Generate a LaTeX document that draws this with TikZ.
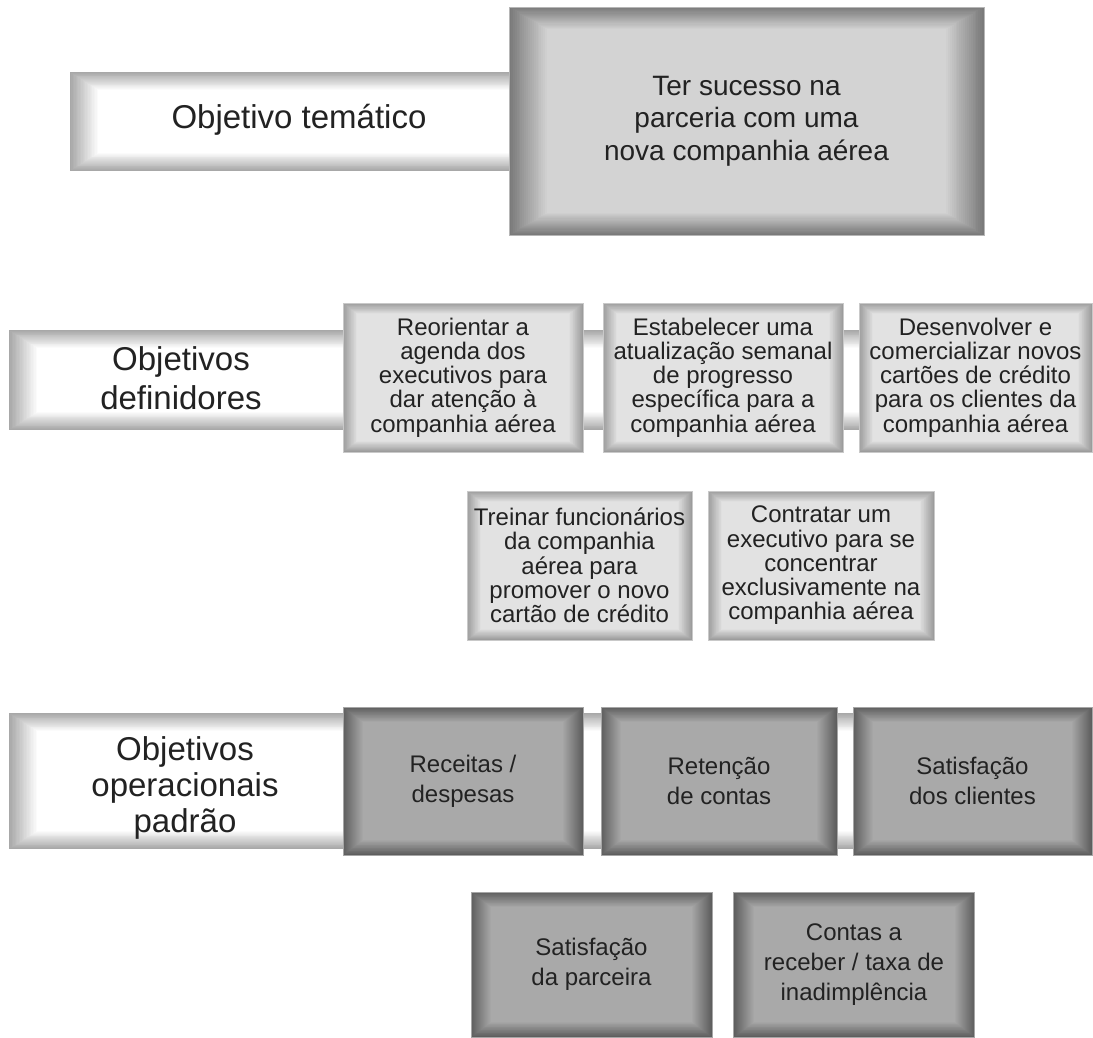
\documentclass[tikz,border=0pt]{standalone}
\usepackage{fontspec}
\setmainfont{Liberation Sans}
\begin{document}
\definecolor{ink}{HTML}{222222}
\definecolor{barout}{HTML}{A8A8A8}
\definecolor{barin}{HTML}{FFFFFF}
\definecolor{topout}{HTML}{7A7A7A}
\definecolor{topin}{HTML}{D3D3D3}
\definecolor{defout}{HTML}{9C9C9C}
\definecolor{defin}{HTML}{E2E2E2}
\definecolor{opout}{HTML}{5E5E5E}
\definecolor{opin}{HTML}{A9A9A9}
\tikzset{
  % size of a node given in pixel units
  px/.style 2 args={minimum width=#1*0.75pt, minimum height=#2*0.75pt},
  % bevelled fill: outer colour, inner colour, bevel width x, bevel width y (px)
  bevel/.style n args={4}{
    path picture={
      \fill[#1] (path picture bounding box.south west) rectangle (path picture bounding box.north east);
      \foreach \k in {1,...,20}{
        \pgfmathtruncatemacro\pct{5*\k}
        \pgfmathsetmacro\dx{\k*#3*0.75/20}
        \pgfmathsetmacro\dy{\k*#4*0.75/20}
        \fill[#2!\pct!#1] ([shift={(\dx pt,\dy pt)}]path picture bounding box.south west)
          rectangle ([shift={(-\dx pt,-\dy pt)}]path picture bounding box.north east);
      }
    }
  },
  every node/.style={inner sep=0pt, text=ink},
  bar/.style={bevel={barout}{barin}{28}{18}},
  bartext/.style={align=center, font=\fontsize{24.75}{29.25}\selectfont},
  themebox/.style={bevel={topout}{topin}{38}{22}, draw=topout!55!white, line width=0.6pt,
    align=center, font=\fontsize{21}{24.4}\selectfont},
  defbox/.style={bevel={defout}{defin}{14}{11}, draw=defout!55!white, line width=0.6pt,
    align=center, font=\fontsize{18}{18.2}\selectfont},
  opbox/.style={bevel={opout}{opin}{20}{15}, draw=opout!55!white, line width=0.6pt,
    align=center, font=\fontsize{18}{22.5}\selectfont}
}
\begin{tikzpicture}[x=0.75pt, y=-0.75pt]
\useasboundingbox (0,0) rectangle (1093,1038);

% horizontal banners behind each row
\node[bar, px={630}{99}]  (bar1) at (385,121.5) {};
\node[bar, px={991}{100}] (bar2) at (504.5,380) {};
\node[bar, px={991}{136}] (bar3) at (504.5,781) {};

% thematic goal
\node[themebox, px={475}{228}] (tema) at (746.5,121)
  {Ter sucesso na\\parceria com uma\\nova companhia aérea};

% defining objectives
\node[defbox, px={240}{149}] (d1) at (463,377.5)
  {Reorientar a\\agenda dos\\executivos para\\dar atenção à\\companhia aérea};
\node[defbox, px={240}{149}] (d2) at (723,377.5)
  {Estabelecer uma\\atualização semanal\\de progresso\\específica para a\\companhia aérea};
\node[defbox, px={233}{149}] (d3) at (975.5,377.5)
  {Desenvolver e\\comercializar novos\\cartões de crédito\\para os clientes da\\companhia aérea};
\node[defbox, px={225}{149}] (d4) at (579.5,565.5)
  {Treinar funcionários\\da companhia\\aérea para\\promover o novo\\cartão de crédito};
\node[defbox, px={226}{149}] (d5) at (821,565.5)
  {Contratar um\\executivo para se\\concentrar\\exclusivamente na\\companhia aérea};

% standard operating objectives
\node[opbox, px={240}{148}] (o1) at (463,781) {Receitas /\\despesas};
\node[opbox, px={236}{148}] (o2) at (719,781) {Retenção\\de contas};
\node[opbox, px={239}{148}] (o3) at (972.5,781) {Satisfação\\dos clientes};
\node[opbox, px={241}{145}] (o4) at (591.5,964.5) {Satisfação\\da parceira};
\node[opbox, px={241}{145}] (o5) at (854,964.5) {Contas a\\receber / taxa de\\inadimplência};

% row captions
\node[bartext] (lab1) at (299,119.5) {Objetivo temático};
\node[bartext] (lab2) at (181,378.5) {Objetivos\\definidores};
\node[bartext, font=\fontsize{24.75}{27}\selectfont] (lab3) at (185,787.5)
  {Objetivos\\operacionais\\padrão};
\end{tikzpicture}
\end{document}
